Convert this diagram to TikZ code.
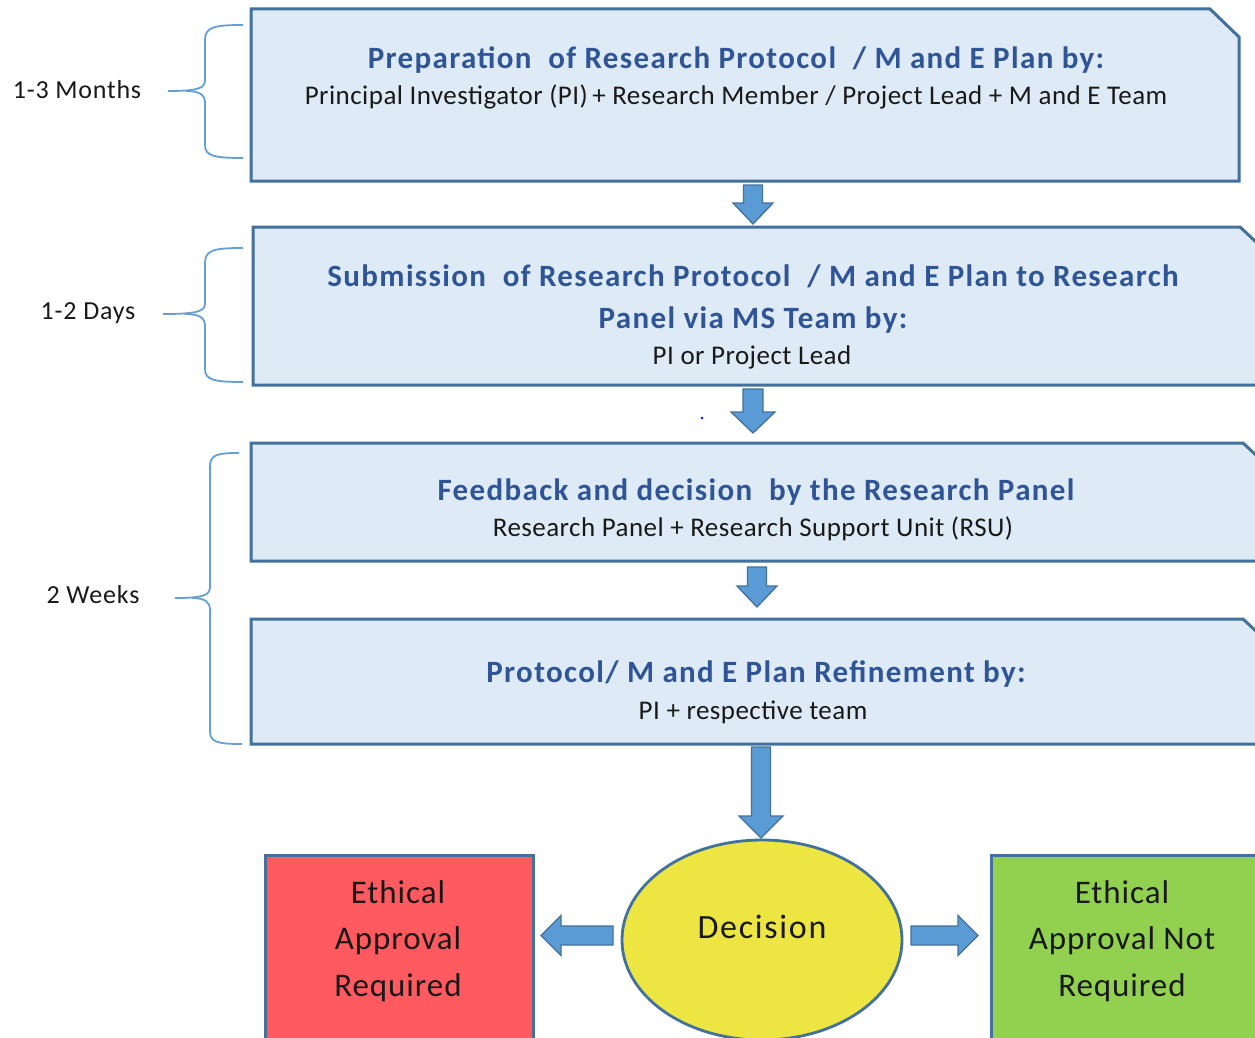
\documentclass[tikz,border=0pt]{standalone}
\usepackage{fontspec}
\setmainfont{Carlito}
\usetikzlibrary{calc,shapes.geometric}
\definecolor{boxfill}{RGB}{222,235,247}
\definecolor{boxline}{RGB}{65,113,156}
\definecolor{arrowfill}{RGB}{91,155,213}
\definecolor{bracecol}{RGB}{100,160,215}
\definecolor{titleblue}{RGB}{47,85,151}
\definecolor{redfill}{RGB}{255,90,96}
\definecolor{greenfill}{RGB}{146,208,80}
\definecolor{yellowfill}{RGB}{237,230,66}
\definecolor{textdark}{RGB}{25,25,25}
\tikzset{
  stagebox/.style={draw=boxline, fill=boxfill, line width=3pt, line join=miter},
  barrow/.style={draw=boxline, fill=arrowfill, line width=1.3pt, line join=miter},
  bracepath/.style={draw=bracecol, line width=1.8pt},
  titletext/.style={text=titleblue, font=\fontsize{31}{42}\selectfont\bfseries\addfontfeature{LetterSpace=4.4}, align=center, inner sep=0pt},
  subtext/.style={text=textdark, font=\fontsize{27}{32}\selectfont\addfontfeature{LetterSpace=1.7}, inner sep=0pt},
  sidetext/.style={text=textdark, font=\fontsize{26}{30}\selectfont\addfontfeature{LetterSpace=3}, inner sep=0pt},
  outtext/.style={text=textdark, font=\fontsize{33}{46.5}\selectfont\addfontfeature{LetterSpace=2.8}, align=center, inner sep=0pt},
}
% vertical block arrow: from #1 to #2, shaft half width #3, head half width #4, head length #5
\newcommand\barrowv[5]{\path[barrow] let \p1=(#1),\p2=(#2) in
  (\x1-#3,\y1) -- (\x1+#3,\y1) -- (\x1+#3,\y2+#5) -- (\x1+#4,\y2+#5) -- (\x1,\y2)
  -- (\x1-#4,\y2+#5) -- (\x1-#3,\y2+#5) -- cycle;}
% horizontal block arrow: signed head length #5 (positive = pointing left)
\newcommand\barrowh[5]{\path[barrow] let \p1=(#1),\p2=(#2) in
  (\x1,\y1-#3) -- (\x1,\y1+#3) -- (\x2+#5,\y1+#3) -- (\x2+#5,\y1+#4) -- (\x2,\y1)
  -- (\x2+#5,\y1-#4) -- (\x2+#5,\y1-#3) -- cycle;}
\begin{document}
\begin{tikzpicture}[x=1pt,y=-1pt]
\useasboundingbox (0,0) rectangle (1255,1038);
\clip (0,0) rectangle (1255,1038);
\fill[white] (0,0) rectangle (1255,1038);

% stage boxes
\path[stagebox] (251,9) -- (1210,9) -- (1239,37) -- (1239,181) -- (251,181) -- cycle;
\path[stagebox] (253,227) -- (1240,227) -- (1270,255) -- (1270,385) -- (253,385) -- cycle;
\path[stagebox] (251,443) -- (1243,443) -- (1273,471) -- (1273,561) -- (251,561) -- cycle;
\path[stagebox] (251,619) -- (1243,619) -- (1273,647) -- (1273,744) -- (251,744) -- cycle;

% box texts
\node[titletext] (t1) at (736,60) {Preparation\ \ of Research Protocol \ / M and E Plan by:};
\node[subtext] (s1) at (736,97) {Principal Investigator (PI)\,+ Research Member / Project Lead + M and E Team};
\node[titletext] (t2) at (753,299) {Submission\ \ of Research Protocol \ / M and E Plan to Research\\Panel via MS Team by:};
\node[subtext] (s2) at (752,357) {PI or Project Lead};
\node[titletext] (t3) at (756,492) {Feedback and decision\ \ by the Research Panel};
\node[subtext] (s3) at (753,529) {Research Panel + Research Support Unit (RSU)};
\node[titletext] (t4) at (756,674) {Protocol/ M and E Plan Refinement by:};
\node[subtext] (s4) at (753,712) {PI + respective team};

% connector anchors
\coordinate (b1s) at (753,185);
\coordinate (b2n) at (753,224);
\coordinate (b2s) at (753,389);
\coordinate (b3n) at (753,433);
\coordinate (b3s) at (757,567);
\coordinate (b4n) at (757,607);
\coordinate (b4s) at (761,747);
\coordinate (decn) at (761,838);
\coordinate (decw) at (613,935.5);
\coordinate (redE) at (541,935.5);
\coordinate (dece) at (911,935.5);
\coordinate (greenW) at (978,935.5);

\barrowv{b1s}{b2n}{9.5pt}{20pt}{21pt}
\barrowv{b2s}{b3n}{10pt}{22pt}{21pt}
\barrowv{b3s}{b4n}{9.5pt}{20pt}{21pt}
\barrowv{b4s}{decn}{9.5pt}{22pt}{22pt}

% outcome shapes
\path[draw=boxline, line width=3pt, fill=redfill] (265,1045) -- (265,855) -- (533,855) -- (533,1045);
\path[draw=boxline, line width=3pt, fill=greenfill] (991,1045) -- (991,855) -- (1265,855) -- (1265,1045);
\node[draw=boxline, line width=2.8pt, fill=yellowfill, ellipse, minimum width=280pt, minimum height=200pt, inner sep=0pt] (dec) at (762,940) {};
\node[outtext, font=\fontsize{34}{40}\selectfont\addfontfeature{LetterSpace=5}] (dectext) at (762,927) {Decision};
\node[outtext] (red) at (398,941) {Ethical\\Approval\\Required};
\node[outtext] (green) at (1122,941) {Ethical\\Approval Not\\Required};

\barrowh{decw}{redE}{9.5pt}{20pt}{20pt}
\barrowh{dece}{greenW}{9.5pt}{20pt}{-20pt}

% stray dot
\fill[blue] (702,418) circle (1.3);

% braces and durations
\path[bracepath] (243,25) .. controls (214,25) and (205,27) .. (205,40) -- (205,80)
  .. controls (205,88) and (199,91) .. (168,91);
\path[bracepath] (186,91) .. controls (200,91) and (205,95) .. (205,103) -- (205,145)
  .. controls (205,156) and (214,158) .. (243,158);
\node[sidetext] (d1) at (77,90) {1-3 Months};

\path[bracepath] (243,248) .. controls (214,248) and (205,250) .. (205,263) -- (205,303)
  .. controls (205,311) and (199,314) .. (163,314);
\path[bracepath] (185,314) .. controls (200,314) and (205,318) .. (205,326) -- (205,369)
  .. controls (205,380) and (214,382) .. (243,382);
\node[sidetext] (d2) at (88,313) {1-2 Days};

\path[bracepath] (239,453) .. controls (216,453) and (210,455) .. (210,467) -- (210,587)
  .. controls (210,595) and (204,598) .. (175,598);
\path[bracepath] (192,598) .. controls (205,598) and (210,602) .. (210,610) -- (210,731)
  .. controls (210,742) and (217,744) .. (242,744);
\node[sidetext] (d3) at (93,595) {2 Weeks};
\end{tikzpicture}
\end{document}
